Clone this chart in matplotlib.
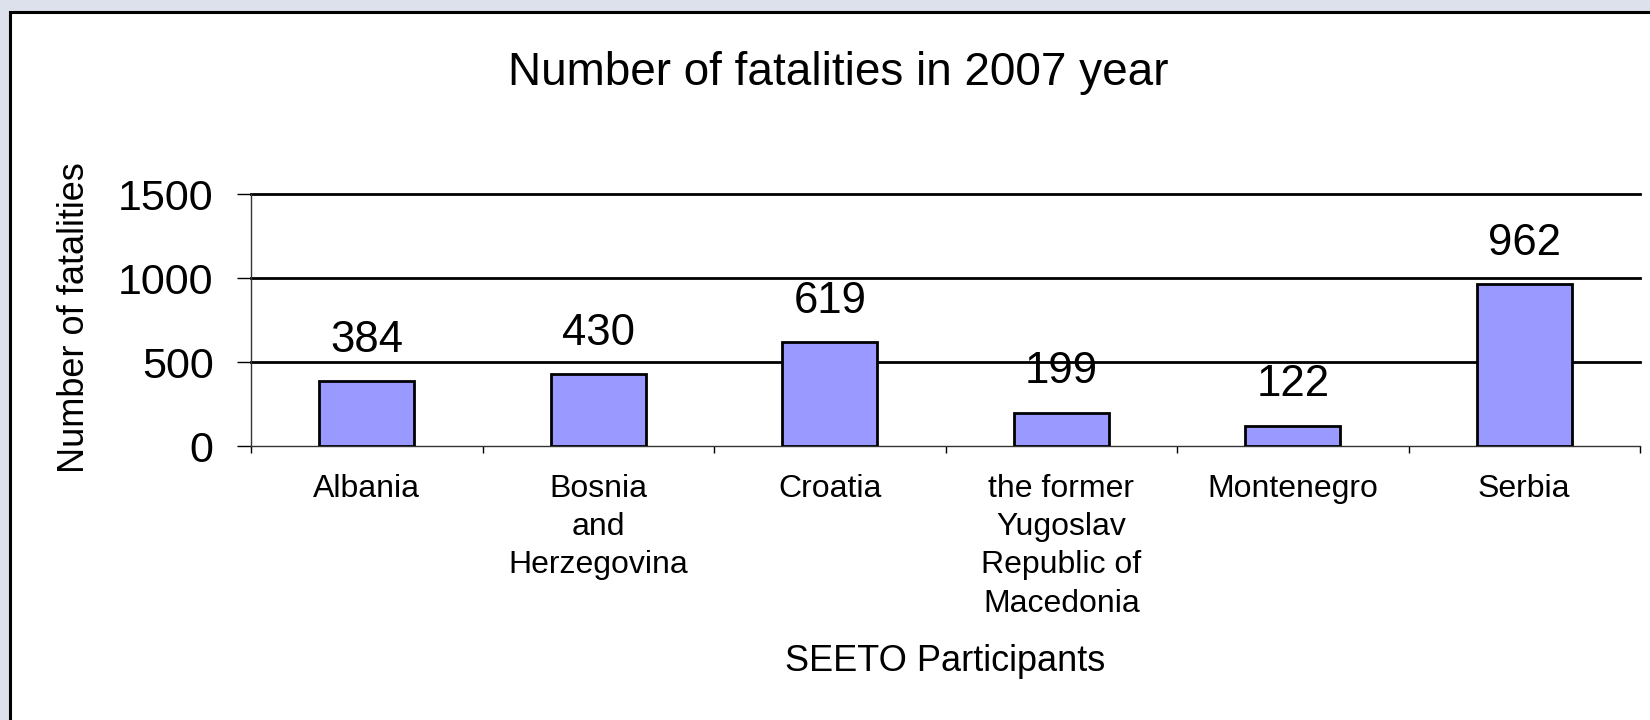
import matplotlib
matplotlib.use("Agg")
import matplotlib.pyplot as plt
from matplotlib.patches import Rectangle
import numpy as np

# --- data ---
countries = ["Albania", "Bosnia\nand\nHerzegovina", "Croatia",
             "the former\nYugoslav\nRepublic of\nMacedonia", "Montenegro", "Serbia"]
fatalities = [384, 430, 619, 199, 122, 962]
y_ticks = [0, 500, 1000, 1500]

plt.rcParams['font.family'] = ['Liberation Sans', 'DejaVu Sans']

fig = plt.figure(figsize=(16.5, 7.2), dpi=100)
fig.patch.set_facecolor("#dde1eb")

# white chart area with black frame (top and left edges visible)
frame = Rectangle((10 / 1650, -0.2), 1.2, (720 - 12) / 720 + 0.2,
                  transform=fig.transFigure, facecolor="white",
                  edgecolor="black", linewidth=2.2, zorder=-1)
fig.patches.append(frame)

ax = fig.add_axes([251 / 1650, (720 - 446) / 720, (1640 - 251) / 1650, (446 - 194) / 720])
ax.set_facecolor("none")
ax.set_zorder(1)

x = np.arange(len(countries))
ax.bar(x, fatalities, width=0.41, color="#9999ff", edgecolor="black",
       linewidth=2, zorder=3)

# value labels above bars
for xi, v in zip(x, fatalities):
    ax.annotate(str(v), (xi, v), xytext=(0, 21), textcoords="offset points",
                ha="center", va="baseline", fontsize=31.5, zorder=4)

for t in y_ticks[1:]:
    ax.axhline(t, color="black", linewidth=2, zorder=1, clip_on=False)

ax.set_xlim(-0.5, len(countries) - 0.5)
ax.set_ylim(0, 1500)
ax.set_yticks(y_ticks)
ax.tick_params(axis="y", labelsize=31, length=10, width=1, pad=17, direction="out")

# category ticks at boundaries, labels in the middle
ax.set_xticks(np.arange(len(countries) + 1) - 0.5)
ax.set_xticklabels([])
ax.set_xticks(x, minor=True)
ax.set_xticklabels(countries, minor=True, fontsize=23, linespacing=1.36)
ax.tick_params(axis="x", which="major", length=5, width=1, direction="out")
ax.tick_params(axis="x", which="minor", length=0, pad=20)

for s in ["top", "right"]:
    ax.spines[s].set_visible(False)
for s in ["left", "bottom"]:
    ax.spines[s].set_linewidth(1)
    ax.spines[s].set_color("#333333")

fig.text(838 / 1650, (720 - 85) / 720, "Number of fatalities in 2007 year",
         ha="center", va="baseline", fontsize=33)
fig.text(75 / 1650, (720 - 318) / 720, "Number of fatalities", rotation=90,
         ha="center", va="center", fontsize=26)
fig.text(945 / 1650, (720 - 671) / 720, "SEETO Participants",
         ha="center", va="baseline", fontsize=26)

fig.savefig("out.png", dpi=100, facecolor=fig.get_facecolor())
